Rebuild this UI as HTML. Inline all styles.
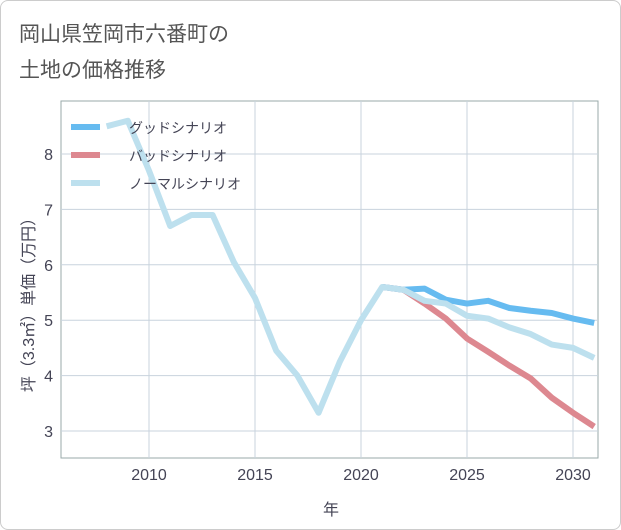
<!DOCTYPE html>
<html><head><meta charset="utf-8"><style>
body{margin:0;background:#fff;font-family:"Liberation Sans","Noto Sans CJK JP",sans-serif;}
#wrap{position:relative;width:619px;height:528px;border:1px solid #ccc;border-radius:8px;overflow:hidden;}
</style></head><body>
<div id="wrap">
<svg id="chart" width="621" height="530">
<text x="18" y="40" font-size="21" fill="#555">岡山県笠岡市六番町の</text>
<text x="18" y="76" font-size="21" fill="#555">土地の価格推移</text>
<g id="grid"></g><g id="series"></g><g id="legend"></g>
<text transform="translate(33,300) rotate(-90)" text-anchor="middle" font-size="16" fill="#445">坪（3.3㎡）単価（万円）</text>
<text x="330" y="514" text-anchor="middle" font-size="16" fill="#445">年</text>
</svg></div>
<script>
const years=[2008,2009,2010,2011,2012,2013,2014,2015,2016,2017,2018,2019,2020,2021,2022,2023,2024,2025,2026,2027,2028,2029,2030,2031];
const normal=[8.5,8.6,7.7,6.7,6.9,6.9,6.05,5.4,4.45,4.0,3.33,4.25,5.0,5.6,5.55,5.35,5.3,5.08,5.03,4.87,4.75,4.56,4.5,4.32];
const fYears=[2021,2022,2023,2024,2025,2026,2027,2028,2029,2030,2031];
const good=[5.6,5.55,5.57,5.37,5.3,5.35,5.22,5.17,5.13,5.03,4.95];
const bad=[5.6,5.55,5.3,5.03,4.67,4.43,4.18,3.95,3.6,3.33,3.08];
const xTicks=[2010,2015,2020,2025,2030];
const yTicks=[3,4,5,6,7,8];
const L=60,R=597,T=100,B=457;
const x=v=>148+(v-2010)*21.2;
const y=v=>430-(v-3)*55.4;
const NS="http://www.w3.org/2000/svg";
function mk(t,a,p){const e=document.createElementNS(NS,t);for(const k in a)e.setAttribute(k,a[k]);p.appendChild(e);return e;}
const grid=document.getElementById('grid');
mk('rect',{x:L,y:T,width:R-L,height:B-T,fill:'none',stroke:'#9aa',"stroke-width":1},grid);
yTicks.forEach(v=>{
 const l=mk('line',{x1:L,x2:R,y1:y(v),y2:y(v),stroke:'#c8d3dd'},grid);
 
 
 const t=mk('text',{x:L-8,y:y(v)+6,"text-anchor":"end","font-size":16,fill:'#445'},grid);t.textContent=v;
 
 
});
xTicks.forEach(v=>{
 const l=mk('line',{x1:x(v),x2:x(v),y1:T,y2:B,stroke:'#c8d3dd'},grid);
 
 
 const t=mk('text',{x:x(v),y:B+22,"text-anchor":"middle","font-size":16,fill:'#445'},grid);t.textContent=v;
 
 
});
const sg=document.getElementById('series');
function line(xs,vs,c,n){const p=mk('polyline',{points:xs.map((a,i)=>x(a)+','+y(vs[i])).join(' '),fill:'none',stroke:c,"stroke-width":6,"stroke-linejoin":"round"},sg);
 
 }
line(fYears,bad,'#dd8890','bad-scenario-line');
line(fYears,good,'#66bbf0','good-scenario-line');
line(years,normal,'#bde0ee','normal-scenario-line');
const lg=document.getElementById('legend');
[['グッドシナリオ','#66bbf0'],['バッドシナリオ','#dd8890'],['ノーマルシナリオ','#bde0ee']].forEach((d,i)=>{
 const g=mk('g',{},lg);
 
 
 mk('line',{x1:70,x2:99,y1:126+i*28,y2:126+i*28,stroke:d[1],"stroke-width":6},g);
 const t=mk('text',{x:128,y:132+i*28,"font-size":14,fill:'#445'},g);t.textContent=d[0];
});
</script>
</body></html>
